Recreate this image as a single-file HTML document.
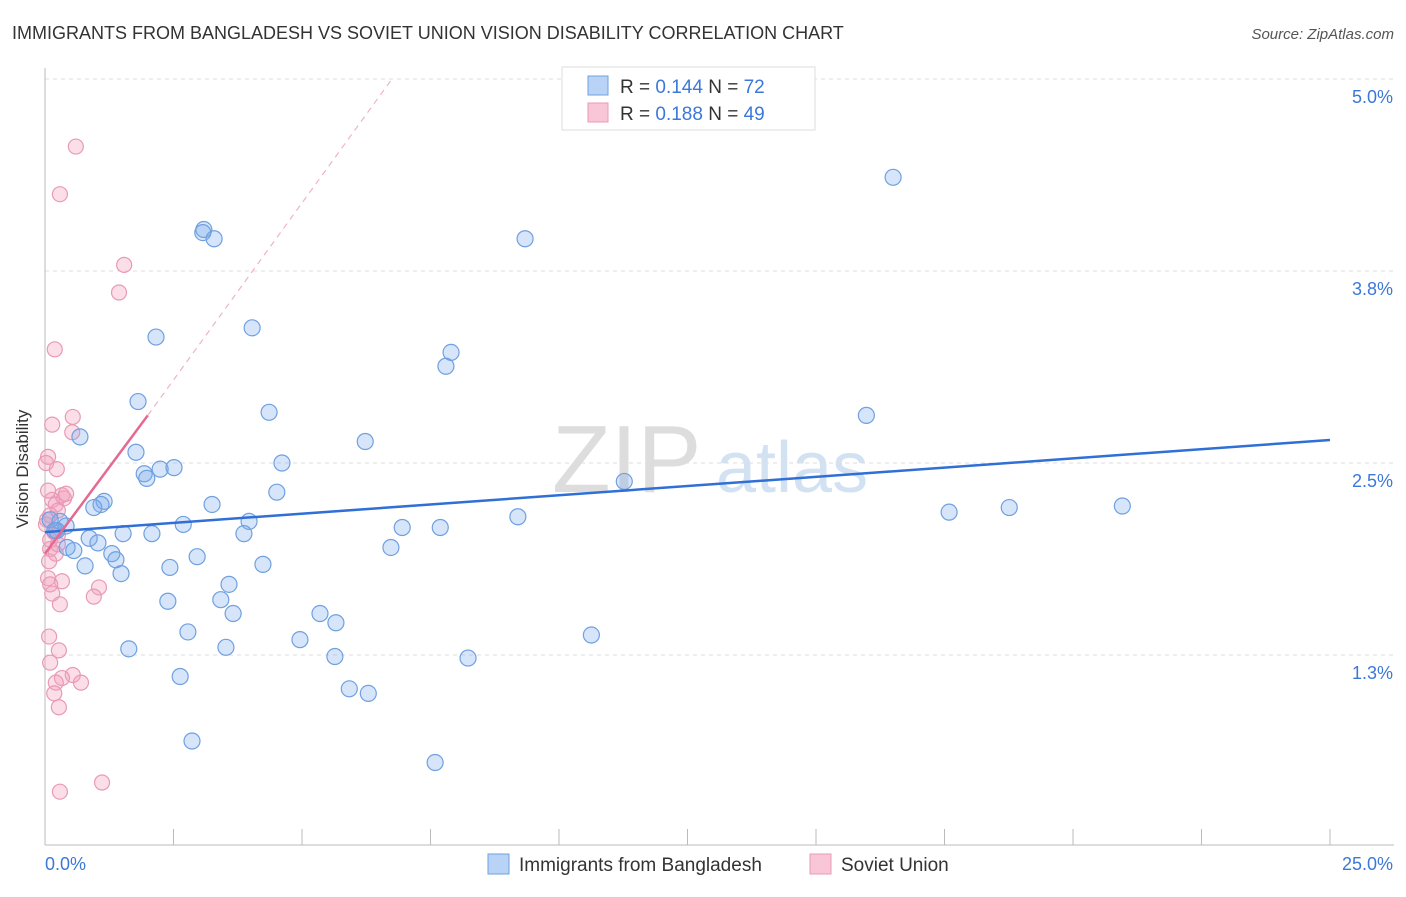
<!DOCTYPE html>
<html><head><meta charset="utf-8"><style>
body{margin:0;background:#fff;font-family:"Liberation Sans",sans-serif;}
svg text{font-family:"Liberation Sans",sans-serif;}
</style></head><body>
<svg width="1406" height="892" xmlns="http://www.w3.org/2000/svg">
<text x="12" y="39" font-size="18" fill="#333">IMMIGRANTS FROM BANGLADESH VS SOVIET UNION VISION DISABILITY CORRELATION CHART</text>
<text x="1394" y="39" font-size="15" fill="#555" font-style="italic" text-anchor="end">Source: ZipAtlas.com</text>
<g>
<text x="552" y="492" font-size="96" fill="#ddd" font-family="Liberation Serif">ZIP</text>
<text x="716" y="492" font-size="72" fill="#d3e2f3">atlas</text>
</g>
<g id="grid"></g>
<g id="axes"></g>
<g id="pts"></g>
<g id="lines"></g>
<text x="14" y="455" font-size="17" fill="#333" transform="rotate(-90 28 455)" text-anchor="middle">Vision Disability</text>
<g>
<rect x="562" y="67" width="253" height="63" fill="#fff" stroke="#ddd"/>
<rect x="588" y="76" width="20" height="19" fill="#b8d3f5" stroke="#6fa0e0"/>
<rect x="588" y="103" width="20" height="19" fill="#f8c6d6" stroke="#e89ab5"/>
<text x="620" y="93" font-size="19" fill="#333">R = <tspan fill="#3b78d8">0.144</tspan>   N = <tspan fill="#3b78d8">72</tspan></text>
<text x="620" y="120" font-size="19" fill="#333">R = <tspan fill="#3b78d8">0.188</tspan>   N = <tspan fill="#3b78d8">49</tspan></text>
</g>
<g>
<rect x="488" y="854" width="21" height="20" fill="#b8d3f5" stroke="#6fa0e0"/>
<text x="519" y="871" font-size="19" fill="#333">Immigrants from Bangladesh</text>
<rect x="810" y="854" width="21" height="20" fill="#f8c6d6" stroke="#e89ab5"/>
<text x="841" y="871" font-size="19" fill="#333">Soviet Union</text>
</g>
</svg>
<script>
const yTicks=[5.0,3.75,2.5,1.25];
const yTickLabels=["5.0%","3.8%","2.5%","1.3%"];
const xTickCount=10;
const blueX=[16.50,9.34,3.09,3.07,3.29,4.03,2.16,7.90,7.80,15.98,1.81,4.36,0.68,6.23,1.77,4.61,2.24,2.51,1.93,1.98,11.27,4.51,1.15,1.09,0.95,3.25,9.20,17.59,18.76,20.96,3.97,2.69,6.95,7.69,0.41,0.29,0.23,3.87,1.52,2.08,0.86,1.03,0.43,0.56,6.73,1.30,1.38,2.96,0.78,2.43,4.24,1.48,3.58,2.39,3.42,3.66,5.35,5.66,2.78,4.96,10.63,1.63,3.52,5.64,8.23,2.63,5.92,6.29,2.86,7.59,0.10,0.19];
const blueY=[4.36,3.96,4.02,4.00,3.96,3.38,3.32,3.22,3.13,2.81,2.90,2.83,2.67,2.64,2.57,2.50,2.46,2.47,2.43,2.40,2.38,2.31,2.25,2.23,2.21,2.23,2.15,2.18,2.21,2.22,2.12,2.10,2.08,2.08,2.09,2.12,2.06,2.04,2.04,2.04,2.01,1.98,1.95,1.93,1.95,1.91,1.87,1.89,1.83,1.82,1.84,1.78,1.71,1.60,1.61,1.52,1.52,1.46,1.40,1.35,1.38,1.29,1.30,1.24,1.23,1.11,1.03,1.00,0.69,0.55,2.13,2.06];
const pinkX=[0.60,0.29,1.54,1.44,0.19,0.54,0.14,0.53,0.23,0.06,0.02,0.33,0.37,0.14,0.21,0.25,0.10,0.02,0.18,0.25,0.10,0.21,0.08,0.06,0.33,0.10,1.05,0.14,0.95,0.29,0.08,0.27,0.10,0.54,0.33,0.70,0.21,0.18,0.27,1.11,0.29,0.06,0.41,0.04,0.10,0.25];
const pinkY=[4.56,4.25,3.79,3.61,3.24,2.80,2.75,2.70,2.46,2.54,2.50,2.29,2.27,2.26,2.23,2.19,2.16,2.10,2.05,2.03,1.94,1.91,1.86,1.75,1.73,1.71,1.69,1.65,1.63,1.58,1.37,1.28,1.20,1.12,1.10,1.07,1.07,1.00,0.91,0.42,0.36,2.32,2.30,2.13,2.00,1.97];
const blueTrend=[[0,2.05],[25,2.65]];
const pinkTrend=[[0,1.91],[2.0,2.81]];
const pinkDash=[[2.0,2.81],[6.75,5.0]];
const NS="http://www.w3.org/2000/svg";
const X=v=>45+v/25*1285;
const Y=v=>79+(5-v)*153.6;
function mk(t,a,p){const e=document.createElementNS(NS,t);for(const k in a)e.setAttribute(k,a[k]);document.getElementById(p).appendChild(e);return e;}
yTicks.forEach((t,i)=>{
 const l=mk('line',{x1:45,x2:1394,y1:Y(t),y2:Y(t),stroke:'#ddd','stroke-dasharray':'4,4'},'grid');
 
 
 const tx=mk('text',{x:1393,y:Y(t)+24,'font-size':18,fill:'#3b78d8','text-anchor':'end'},'axes');
 tx.textContent=yTickLabels[i];
 
 
});
const ax=mk('line',{x1:45,x2:45,y1:68,y2:845,stroke:'#bbb'},'axes');


const bx=mk('line',{x1:45,x2:1394,y1:845,y2:845,stroke:'#bbb'},'axes');


for(let i=0;i<=xTickCount;i++){
 const v=25*i/xTickCount;
 const t=mk('line',{x1:X(v),x2:X(v),y1:829,y2:845,stroke:'#bbb'},'axes');
 
 
}
const xl=mk('text',{x:45,y:870,'font-size':18,fill:'#3b78d8'},'axes');xl.textContent='0.0%';


const xr=mk('text',{x:1393,y:870,'font-size':18,fill:'#3b78d8','text-anchor':'end'},'axes');xr.textContent='25.0%';


pinkX.forEach((v,i)=>{
 const c=mk('circle',{cx:X(v),cy:Y(pinkY[i]),r:7.5,fill:'rgba(244,160,188,0.35)',stroke:'#e89ab5','stroke-width':1.2},'pts');
 
 
});
blueX.forEach((v,i)=>{
 const c=mk('circle',{cx:X(v),cy:Y(blueY[i]),r:8,fill:'rgba(120,170,235,0.3)',stroke:'#6fa0e0','stroke-width':1.2},'pts');
 
 
});
const b=mk('line',{x1:X(blueTrend[0][0]),y1:Y(blueTrend[0][1]),x2:X(blueTrend[1][0]),y2:Y(blueTrend[1][1]),stroke:'#2f6fd6','stroke-width':2.5},'lines');


const p=mk('line',{x1:X(pinkTrend[0][0]),y1:Y(pinkTrend[0][1]),x2:X(pinkTrend[1][0]),y2:Y(pinkTrend[1][1]),stroke:'#e46a93','stroke-width':2.5},'lines');


const d=mk('line',{x1:X(pinkDash[0][0]),y1:Y(pinkDash[0][1]),x2:X(pinkDash[1][0]),y2:Y(pinkDash[1][1]),stroke:'#efb3c7','stroke-width':1.2,'stroke-dasharray':'6,5'},'lines');


</script>
</body></html>
